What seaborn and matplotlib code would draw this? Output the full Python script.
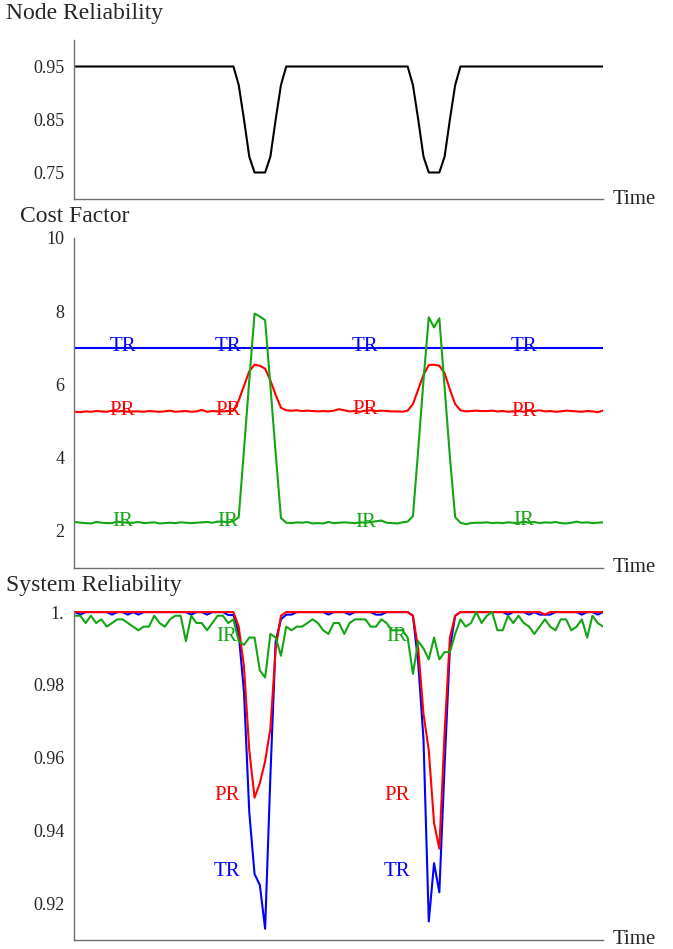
#!/usr/bin/env python3

import numpy as np
import pandas as pd
import seaborn as sns
from matplotlib import pyplot as plt

# time steps 0..100
time = np.arange(101)

# node reliability (flat 0.95 with two dips)
node_dip = [0.95, 0.915, 0.85, 0.78, 0.75, 0.75, 0.75, 0.78, 0.85, 0.915, 0.95]
node_rel = [0.95] * 30 + node_dip + [0.95] * 22 + node_dip + [0.95] * 27

# cost factor
cost_tr = [7.0] * 101
cost_pr = [
    5.24, 5.23, 5.25, 5.24, 5.26, 5.25, 5.24, 5.27, 5.25, 5.26,
    5.24, 5.25, 5.25, 5.24, 5.26, 5.25, 5.24, 5.25, 5.27, 5.24,
    5.25, 5.26, 5.24, 5.25, 5.29, 5.24, 5.26, 5.25, 5.25, 5.26,
    5.27, 5.55, 5.95, 6.35, 6.53, 6.50, 6.42, 6.10, 5.70, 5.35, 5.28,
    5.27, 5.28, 5.26, 5.27, 5.26, 5.25, 5.26, 5.25, 5.27, 5.31,
    5.28, 5.25, 5.26, 5.24, 5.27, 5.28, 5.26, 5.27, 5.26, 5.25,
    5.25, 5.24,
    5.27, 5.45, 5.85, 6.25, 6.52, 6.53, 6.50, 6.30, 5.85, 5.45, 5.28,
    5.25, 5.26, 5.27, 5.26, 5.26, 5.27, 5.25, 5.26, 5.24, 5.25,
    5.26, 5.24, 5.27, 5.26, 5.28, 5.25, 5.26, 5.24, 5.25, 5.27,
    5.26, 5.25, 5.24, 5.26, 5.25, 5.23, 5.27,
]
cost_ir = [
    2.22, 2.20, 2.19, 2.18, 2.22, 2.20, 2.19, 2.19, 2.23, 2.21,
    2.20, 2.20, 2.22, 2.19, 2.20, 2.21, 2.18, 2.19, 2.20, 2.19,
    2.21, 2.20, 2.19, 2.20, 2.21, 2.22, 2.20, 2.23, 2.23, 2.21,
    2.25, 2.35, 4.20, 6.10, 7.93, 7.85, 7.75, 5.95, 4.10, 2.33, 2.20,
    2.19, 2.21, 2.20, 2.22, 2.18, 2.19, 2.18, 2.22, 2.19, 2.20,
    2.21, 2.20, 2.19, 2.21, 2.20, 2.22, 2.24, 2.26, 2.20, 2.19,
    2.18, 2.21,
    2.23, 2.38, 4.20, 6.10, 7.83, 7.55, 7.80, 5.90, 4.00, 2.35, 2.20,
    2.16, 2.19, 2.20, 2.20, 2.21, 2.19, 2.20, 2.19, 2.21, 2.20,
    2.19, 2.23, 2.20, 2.22, 2.19, 2.21, 2.20, 2.22, 2.19, 2.18,
    2.20, 2.23, 2.20, 2.21, 2.19, 2.20, 2.21,
]

# system reliability
sys_tr = [
    1, 0.9993, 1, 1, 1, 1, 1, 0.9993, 1, 1,
    0.9993, 1, 0.9993, 1, 1, 1, 1, 1, 1, 1,
    1, 1, 0.9993, 1, 1, 0.9993, 1, 1, 1, 0.9992,
    0.9992, 0.994, 0.978, 0.945, 0.928, 0.925, 0.913, 0.955, 0.992, 0.998, 0.9993,
    0.9993, 1, 1, 1, 1, 1, 1, 0.9993, 1, 1,
    1, 0.9993, 1, 1, 1, 1, 0.9993, 0.9993, 1, 1,
    1, 1,
    1, 0.999, 0.986, 0.965, 0.915, 0.931, 0.923, 0.958, 0.990, 0.999, 1,
    1, 1, 1, 1, 1, 1, 1, 1, 0.9993, 1,
    1, 1, 0.9993, 1, 0.9993, 0.9993, 0.9993, 1, 1, 1,
    1, 1, 0.9993, 1, 1, 0.9993, 1,
]
sys_pr = (
    [1.0] * 30
    + [1.0, 0.996, 0.985, 0.962, 0.949, 0.953, 0.959, 0.968, 0.990, 0.999, 1.0]
    + [1.0] * 22
    + [1.0, 0.999, 0.990, 0.972, 0.962, 0.942, 0.935, 0.967, 0.993, 0.999, 1.0]
    + [1.0] * 15 + [0.9993] + [1.0] * 11
)
sys_ir = [
    0.999, 0.999, 0.997, 0.999, 0.997, 0.998, 0.996, 0.997, 0.998, 0.998,
    0.997, 0.996, 0.995, 0.996, 0.996, 0.999, 0.997, 0.996, 0.998, 0.999,
    0.999, 0.992, 0.999, 0.997, 0.997, 0.995, 0.997, 0.999, 0.999, 0.997,
    0.998, 0.992, 0.991, 0.993, 0.993, 0.984, 0.982, 0.994, 0.993, 0.988,
    0.996, 0.995, 0.996, 0.996, 0.997, 0.998, 0.997, 0.995, 0.994, 0.997,
    0.997, 0.994, 0.997, 0.998, 0.998, 0.998, 0.996, 0.996, 0.998, 0.997,
    0.995, 0.995, 0.995, 0.993,
    0.983, 0.992, 0.990, 0.987, 0.993, 0.987, 0.989, 0.989, 0.994, 0.998,
    0.996, 0.997, 1.000, 0.997, 0.999, 1.000, 0.995, 0.995, 0.999, 0.997,
    0.999, 0.997, 0.996, 0.994, 0.996, 0.998, 0.996, 0.995, 0.998, 0.998,
    0.995, 0.996, 0.998, 0.993, 0.999, 0.997, 0.996,
]

methods = ["TR", "PR", "IR"]
colors = {"TR": "#0000ff", "PR": "#ff0000", "IR": "#14a514"}

# label positions
cost_label_x = [9, 29, 55, 85]
sys_label_x = [28.8, 61.0]
sys_label_y = {"IR": 0.9934, "PR": 0.9496, "TR": 0.9288}

sns.set_style("white")
plt.rcParams['font.family'] = ['Liberation Serif', 'DejaVu Serif']

AXIS_GREY = "#707070"
TITLE_SIZE = 17
TICK_SIZE = 13
LABEL_SIZE = 15


def long_frame(series):
    rows = []
    for name, values in series.items():
        for t, v in zip(time, values):
            rows.append((t, v, name))
    return pd.DataFrame(rows, columns=["time", "value", "method"])


def style_axis(ax, ylim, ticks, labels):
    ax.set_xlim(-0.2, 100)
    ax.set_ylim(*ylim)
    ax.set_xticks([])
    ax.set_yticks(ticks)
    ax.set_yticklabels(labels)
    ax.set_xlabel("")
    ax.set_ylabel("")
    for side in ["top", "right"]:
        ax.spines[side].set_visible(False)
    for side in ["left", "bottom"]:
        ax.spines[side].set_color(AXIS_GREY)
        ax.spines[side].set_linewidth(1.0)
    ax.tick_params(axis="y", direction="out", length=4, width=0.8,
                   color=AXIS_GREY, labelsize=TICK_SIZE, pad=3)
    ax.text(1.018, 0, "Time", transform=ax.transAxes, ha="left",
            va="center", fontsize=LABEL_SIZE)


fig = plt.figure(figsize=(6.73, 9.49), dpi=100)
left, width = 74 / 673, 529 / 673
ax1 = fig.add_axes([left, 1 - 199 / 949, width, 159 / 949])
ax2 = fig.add_axes([left, 1 - 568 / 949, width, 330 / 949])
ax3 = fig.add_axes([left, 1 - 940 / 949, width, 329 / 949])

# node reliability
node_df = pd.DataFrame({"time": time, "value": node_rel})
sns.lineplot(data=node_df, x="time", y="value", color="black", lw=1.5,
             estimator=None, ax=ax1)
style_axis(ax1, (0.70, 1.0), [0.75, 0.85, 0.95], ["0.75", "0.85", "0.95"])

# cost factor
cost_df = long_frame({"TR": cost_tr, "PR": cost_pr, "IR": cost_ir})
sns.lineplot(data=cost_df, x="time", y="value", hue="method",
             hue_order=methods, palette=colors, lw=1.5, estimator=None,
             legend=False, ax=ax2)
style_axis(ax2, (0.96, 10), [2, 4, 6, 8, 10], ["2", "4", "6", "8", "10"])
for name, values in [("TR", cost_tr), ("PR", cost_pr), ("IR", cost_ir)]:
    for lx in cost_label_x:
        ax2.text(lx, values[int(round(lx))] + 0.02, name, color=colors[name],
                 ha="center", va="center", fontsize=LABEL_SIZE)

# system reliability
sys_df = long_frame({"TR": sys_tr, "PR": sys_pr, "IR": sys_ir})
sns.lineplot(data=sys_df, x="time", y="value", hue="method",
             hue_order=methods, palette=colors, lw=1.5, estimator=None,
             legend=False, ax=ax3)
style_axis(ax3, (0.9099, 1.0003), [0.92, 0.94, 0.96, 0.98, 1.0],
           ["0.92", "0.94", "0.96", "0.98", "1."])
for name in methods:
    for lx in sys_label_x:
        ax3.text(lx, sys_label_y[name], name, color=colors[name],
                 ha="center", va="center", fontsize=LABEL_SIZE)

fig.text(6 / 673, 1 - 14 / 949, "Node Reliability", ha="left", va="center",
         fontsize=TITLE_SIZE)
fig.text(20 / 673, 1 - 216 / 949, "Cost Factor", ha="left", va="center",
         fontsize=TITLE_SIZE)
fig.text(6 / 673, 1 - 586 / 949, "System Reliability", ha="left",
         va="center", fontsize=TITLE_SIZE)

fig.savefig("out.png", dpi=100)
